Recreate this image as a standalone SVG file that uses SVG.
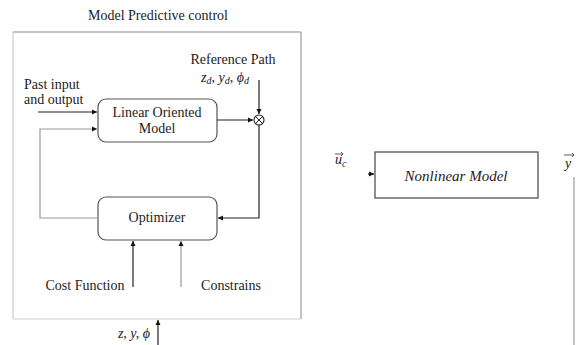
<svg xmlns="http://www.w3.org/2000/svg" width="583" height="345" viewBox="0 0 583 345">
<style>
text{font-family:"Liberation Serif","DejaVu Serif",serif;fill:#222;font-size:14px}
.m{font-style:italic}
.c{text-anchor:middle}
.ln{fill:none;stroke:#222;stroke-width:1.2}
.lg{fill:none;stroke:#999;stroke-width:1.2}
.box{fill:#fff;stroke:#555;stroke-width:1.2}
</style>
<defs>
<marker id="ah" markerWidth="6" markerHeight="6" refX="5" refY="3" orient="auto" markerUnits="userSpaceOnUse">
<path d="M0,0.5 L5,3 L0,5.5 Z" fill="#111"/>
</marker>
</defs>
<rect width="583" height="345" fill="#fff"/>
<g font-family="Liberation Serif, DejaVu Serif, serif">
<g id="mpc">
<text x="158" y="20" class="c">Model Predictive control</text>
<line x1="13" y1="32" x2="301" y2="32" stroke="#888" stroke-width="1.2"/>
<line x1="13" y1="32" x2="13" y2="319" stroke="#ccc" stroke-width="1.2"/>
<line x1="301" y1="32" x2="301" y2="319" stroke="#999" stroke-width="1.2"/>
<line x1="13" y1="319" x2="301" y2="319" stroke="#ccc" stroke-width="1.2"/>
</g>
<g id="lom">
<rect x="98" y="99" width="119" height="43" rx="8" class="box"/>
<text x="157" y="117" class="c">Linear Oriented</text>
<text x="157" y="133" class="c">Model</text>
</g>
<g id="optimizer">
<rect x="98" y="197" width="119" height="43" rx="8" class="box"/>
<text x="157" y="222" class="c">Optimizer</text>
</g>
<g id="sum">
<circle cx="259" cy="120" r="5" fill="#fff" stroke="#222" stroke-width="1.1"/>
<path d="M255.5,116.5 L262.5,123.5 M262.5,116.5 L255.5,123.5" stroke="#222" stroke-width="1"/>
</g>
<g id="nonlinear">
<rect x="375" y="152" width="163" height="46" fill="#fff" stroke="#444" stroke-width="1.2"/>
<text x="456" y="181" class="c m" style="font-size:15px">Nonlinear Model</text>
</g>
<g id="labels">
<text x="233" y="64" class="c">Reference Path</text>
<text x="225" y="82" class="c m">z<tspan font-size="10" dy="2">d</tspan><tspan dy="-2">, y</tspan><tspan font-size="10" dy="2">d</tspan><tspan dy="-2">, ϕ</tspan><tspan font-size="10" dy="2">d</tspan></text>
<text x="24" y="89">Past input</text>
<text x="24" y="104">and output</text>
<text x="85" y="290" class="c">Cost Function</text>
<text x="231" y="290" class="c">Constrains</text>
<text x="134" y="338" class="c m">z, y, ϕ</text>
<text x="335" y="164" class="m">u<tspan font-size="10" dy="3">c</tspan></text>
<path d="M335,154 L343,154 M341,152 L343,154 L341,156" fill="none" stroke="#333" stroke-width="0.8"/>
<text x="565" y="168" class="m">y</text>
<path d="M564,155 L574,155 M572,153 L574,155 L572,157" fill="none" stroke="#333" stroke-width="0.8"/>
</g>
</g>
<g id="connectors">
<line x1="38" y1="112" x2="97" y2="112" class="ln" marker-end="url(#ah)"/>
<path d="M98,218 L40,218 L40,129 L97,129" class="lg" marker-end="url(#ah)"/>
<line x1="217" y1="120" x2="253" y2="120" class="ln" marker-end="url(#ah)"/>
<line x1="259" y1="80" x2="259" y2="114" class="ln" marker-end="url(#ah)"/>
<path d="M259,125 L259,218 L218,218" class="ln" marker-end="url(#ah)"/>
<line x1="133" y1="287" x2="133" y2="241" class="ln" marker-end="url(#ah)"/>
<line x1="181" y1="287" x2="181" y2="241" class="lg" marker-end="url(#ah)"/>
<line x1="158" y1="345" x2="158" y2="320" class="ln" marker-end="url(#ah)"/>
<line x1="368" y1="174" x2="374" y2="174" class="ln" marker-end="url(#ah)"/>
<line x1="574" y1="177" x2="574" y2="345" class="lg"/>
</g>
</svg>
